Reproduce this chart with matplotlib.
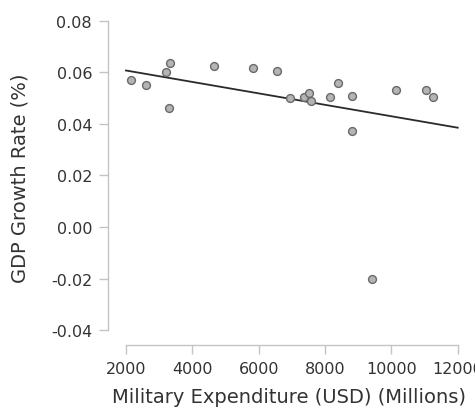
import numpy as np
import matplotlib
matplotlib.use("Agg")
import matplotlib.pyplot as plt

military_exp = [2142, 2602, 3214, 3334, 3295, 4660, 5825, 6539, 6931, 7361,
                7503, 7581, 8144, 8376, 8807, 8807, 10142, 11045, 11268, 9405]
gdp_growth = [0.0571, 0.0552, 0.0603, 0.0637, 0.0463, 0.0624, 0.0618, 0.0604, 0.0502, 0.0504,
              0.0519, 0.0489, 0.0503, 0.0558, 0.0508, 0.0371, 0.0533, 0.0532, 0.0506, -0.0203]
x_ticks = [2000, 4000, 6000, 8000, 10000, 12000]
y_ticks = [-0.04, -0.02, 0.00, 0.02, 0.04, 0.06, 0.08]
fit_range = [2000, 12000]

W, H = 475, 414
fig = plt.figure(figsize=(W / 100, H / 100), dpi=100)
plt.rcParams['font.family'] = ['DejaVu Sans']

left, right = 108 / W, 471 / W
bottom, top = 1 - 346 / H, 1 - 10 / H
ax = fig.add_axes([left, bottom, right - left, top - bottom])

ax.scatter(military_exp, gdp_growth, s=32, facecolor='#b4b4b4', edgecolor='#6a6a6a',
           linewidths=1.0, zorder=3)

slope, intercept = np.polyfit(military_exp, gdp_growth, 1)
fx = np.array(fit_range, dtype=float)
ax.plot(fx, intercept + slope * fx, color='#2a2a2a', lw=1.3, zorder=2)

ax.set_xlim(1458, 12400)
ax.set_ylim(-0.0458, 0.0846)

for s in ['top', 'right']:
    ax.spines[s].set_visible(False)
for s in ['left', 'bottom']:
    ax.spines[s].set_color('#c4c4c4')
    ax.spines[s].set_linewidth(1.0)
ax.spines['left'].set_bounds(-0.04, 0.08)
ax.spines['bottom'].set_bounds(2000, 12000)

ax.set_xticks(x_ticks)
ax.set_xticklabels([str(t) for t in x_ticks])
ax.set_yticks(y_ticks)
ax.set_yticklabels([f"{t:.2f}" for t in y_ticks])
ax.tick_params(axis='both', direction='out', length=6.5, width=1.0, color='#c4c4c4',
               labelcolor='#333333', labelsize=11.5, pad=5)

ax.set_xlabel('Military Expenditure (USD) (Millions)', fontsize=14, color='#333333', labelpad=8)
ax.set_ylabel('GDP Growth Rate (%)', fontsize=14, color='#333333', labelpad=15)
ax.patch.set_visible(False)

fig.savefig('out.png', dpi=100)
